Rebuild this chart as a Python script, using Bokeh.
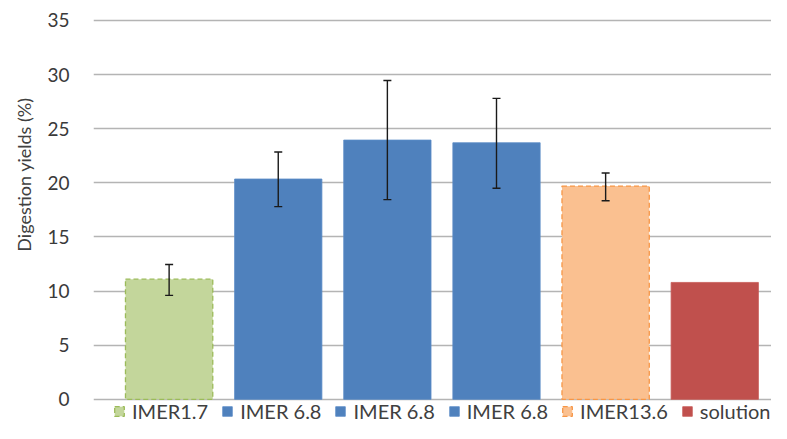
from math import pi
from bokeh.plotting import figure
from bokeh.models import (ColumnDataSource, Whisker, TeeHead, Legend, LegendItem,
                          Title, Range1d, FixedTicker)
from bokeh.embed import file_html
from bokeh.resources import INLINE

# ---- data ----
labels = ["IMER1.7", "IMER 6.8", "IMER 6.8", "IMER 6.8", "IMER13.6", "solution"]
positions = [0, 1, 2, 3, 4, 5]
yields = [11.1, 20.35, 23.95, 23.7, 19.7, 10.8]
err_low = [9.6, 17.8, 18.45, 19.5, 18.35, None]
err_high = [12.45, 22.85, 29.45, 27.8, 20.9, None]
y_ticks = [0, 5, 10, 15, 20, 25, 30, 35]

# ---- styles ----
fill_colors = ["#C3D69B", "#4F81BD", "#4F81BD", "#4F81BD", "#FAC090", "#C0504D"]
edge_colors = ["#9BBB59", "#5B8CC6", "#5B8CC6", "#5B8CC6", "#F79646", "#C65A57"]
edge_dashes = ["5 3", "solid", "solid", "solid", "5 3", "solid"]

FONT = "Lato"

p = figure(width=771, height=423, output_backend="svg", toolbar_location=None,
           x_range=Range1d(-0.693, 5.52), y_range=Range1d(-2.23, 36.1),
           min_border_left=90, min_border_right=0, min_border_top=8,
           min_border_bottom=0)
p.outline_line_color = None
p.background_fill_color = "white"

items = []
for i in positions:
    src = ColumnDataSource(dict(x=[positions[i]], top=[yields[i]]))
    r = p.vbar(x="x", top="top", bottom=0, width=0.8, source=src,
               fill_color=fill_colors[i], line_color=edge_colors[i],
               line_dash=edge_dashes[i], line_width=1.3 if edge_dashes[i] != "solid" else 0.8)
    items.append(LegendItem(label=labels[i], renderers=[r]))

wx = [positions[i] for i in positions if err_low[i] is not None]
wl = [err_low[i] for i in positions if err_low[i] is not None]
wu = [err_high[i] for i in positions if err_high[i] is not None]
wsrc = ColumnDataSource(dict(base=wx, lower=wl, upper=wu))
wh = Whisker(base="base", lower="lower", upper="upper", source=wsrc,
             line_color="#1a1a1a", line_width=1.4, level="overlay",
             upper_head=TeeHead(size=8, line_color="#1a1a1a", line_width=1.4),
             lower_head=TeeHead(size=8, line_color="#1a1a1a", line_width=1.4))
p.add_layout(wh)

# axes
p.xaxis.visible = False
p.xgrid.visible = False
p.yaxis.ticker = FixedTicker(ticks=y_ticks)
p.ygrid.ticker = FixedTicker(ticks=y_ticks)
p.ygrid.grid_line_color = "#B4B4B4"
p.ygrid.grid_line_width = 1.3
p.yaxis.axis_line_color = None
p.yaxis.major_tick_line_color = None
p.yaxis.minor_tick_line_color = None
p.yaxis.major_label_standoff = 18
p.yaxis.major_label_text_font = FONT
p.yaxis.major_label_text_font_size = "19px"
p.yaxis.major_label_text_color = "#3a3a3a"

ytitle = Title(text="Digestion yields (%)", align="right", offset=89,
               text_font=FONT, text_font_size="18px", text_font_style="normal",
               text_color="#404040", standoff=20)
p.add_layout(ytitle, "left")

legend = Legend(items=items, orientation="horizontal", location=(20, 0),
                glyph_width=12, glyph_height=12, label_standoff=7, spacing=13,
                padding=0, margin=0, border_line_color=None,
                background_fill_alpha=0, label_text_font=FONT,
                label_text_font_size="20px", label_text_color="#404040")
p.add_layout(legend)

open("out.html", "w").write(file_html(p, INLINE))
